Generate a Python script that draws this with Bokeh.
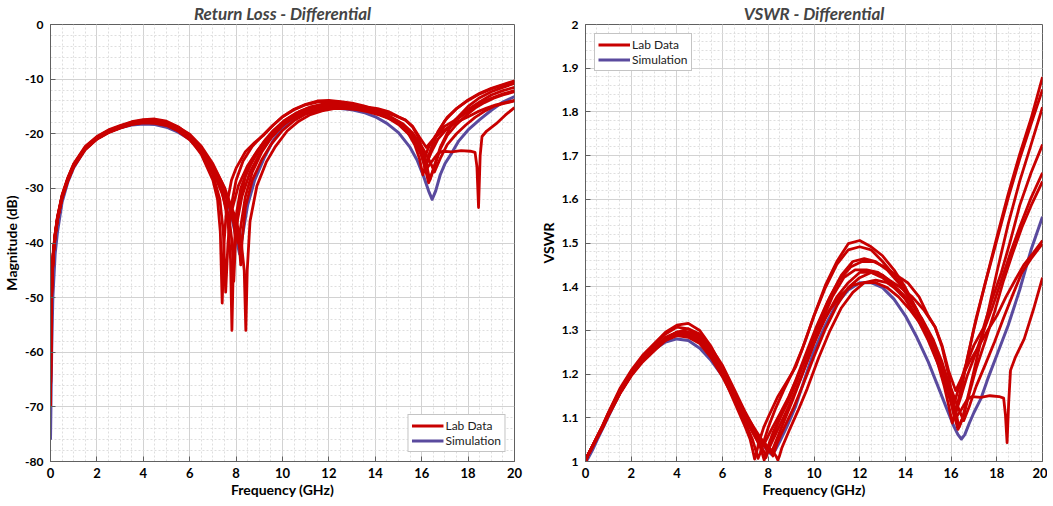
import numpy as np
from bokeh.plotting import figure
from bokeh.layouts import row
from bokeh.models import (Range1d, SingleIntervalTicker, Legend, LegendItem,
                          CustomJSTickFormatter)
from bokeh.embed import file_html
from bokeh.resources import INLINE

# ---------------- data ----------------
sim_f = [0, 0.05, 0.1, 0.2, 0.3, 0.5, 0.75, 1.0, 1.5, 2.0, 2.5, 3.0, 3.5, 4.0, 4.5, 5.0, 5.5, 6.0,
         6.5, 7.0, 7.5, 7.8, 8.0, 8.15, 8.3, 8.5, 8.8, 9.2, 9.6, 10.0, 10.5, 11.0, 11.5, 12.0, 12.5,
         13.0, 13.5, 14.0, 14.5, 15.0, 15.5, 15.8, 16.1, 16.3, 16.45, 16.6, 16.8, 17.0, 17.3, 17.6,
         18.0, 18.5, 19.0, 19.5, 20.0]
sim_db = [-76, -60, -50, -42, -38, -32.5, -28.8, -26.2, -22.8, -20.9, -19.7, -18.9, -18.4, -18.2,
          -18.3, -18.8, -19.7, -21.0, -23.0, -26.0, -30.5, -35.0, -39.0, -42.0, -38.0, -33.0, -28.5,
          -24.5, -21.2, -19.0, -17.4, -16.3, -15.7, -15.4, -15.4, -15.6, -16.1, -16.9, -18.1, -19.8,
          -22.5, -24.8, -28.0, -30.5, -32.0, -30.5, -27.5, -25.5, -23.5, -21.3, -19.3, -17.4, -15.7,
          -14.2, -13.2]

lab1_f = [0, 0.02, 0.06, 0.12, 0.2, 0.3, 0.5, 0.75, 1.0, 1.5, 2.0, 2.5, 3.0, 3.5, 4.0, 4.5, 5.0, 5.5,
          6.0, 6.5, 7.0, 7.2, 7.32, 7.4, 7.48, 7.6, 7.8, 8.0, 8.4, 8.8, 9.2, 9.6, 10.0, 10.5, 11.0,
          11.5, 12.0, 12.5, 13.0, 13.5, 14.0, 14.5, 15.0, 15.4, 15.7, 15.9, 16.05, 16.3, 16.6, 17.0,
          17.5, 18.0, 18.5, 19.0, 19.5, 20.0]
lab1_db = [-70, -55, -47, -42, -38.5, -35.4, -31.4, -28.2, -25.7, -22.5, -20.6, -19.4, -18.6, -17.9,
           -17.5, -17.6, -18.1, -19.2, -20.9, -23.8, -28.5, -32.0, -38.0, -51.0, -40.0, -33.0, -28.5,
           -26.3, -23.3, -21.6, -20.2, -18.4, -16.9, -15.5, -14.6, -14.0, -13.9, -14.1, -14.4, -14.9,
           -15.6, -16.6, -18.1, -19.8, -22.0, -24.5, -27.5, -24.0, -20.5, -17.6, -15.4, -13.8, -12.6,
           -11.7, -11.0, -10.3]

lab2_f = [0, 0.02, 0.06, 0.12, 0.2, 0.3, 0.5, 0.75, 1.0, 1.5, 2.0, 2.5, 3.0, 3.5, 4.0, 4.5, 5.0, 5.5,
          6.0, 6.5, 7.0, 7.3, 7.45, 7.55, 7.65, 7.8, 8.0, 8.3, 8.7, 9.1, 9.5, 10.0, 10.5, 11.0, 11.5,
          12.0, 12.5, 13.0, 13.5, 14.0, 14.5, 15.0, 15.4, 15.8, 16.0, 16.15, 16.4, 16.7, 17.1, 17.5,
          18.0, 18.5, 19.0, 19.5, 20.0]
lab2_db = [-70, -54, -46.5, -41.5, -38.2, -35.2, -31.2, -28.0, -25.5, -22.3, -20.5, -19.3, -18.5,
           -17.8, -17.4, -17.3, -17.7, -18.7, -20.3, -23.0, -27.5, -32.0, -38.0, -49.0, -40.0, -33.0,
           -28.5, -25.0, -22.3, -20.5, -18.8, -16.9, -15.6, -14.7, -14.2, -14.1, -14.2, -14.6, -15.1,
           -15.7, -16.6, -17.8, -19.2, -21.3, -23.5, -26.5, -23.0, -19.6, -17.0, -15.4, -13.9, -12.7,
           -11.8, -11.1, -10.5]

lab3_f = [0, 0.02, 0.06, 0.12, 0.2, 0.3, 0.5, 0.75, 1.0, 1.5, 2.0, 2.5, 3.0, 3.5, 4.0, 4.5, 5.0, 5.5,
          6.0, 6.5, 7.0, 7.4, 7.65, 7.76, 7.82, 7.88, 8.0, 8.2, 8.5, 8.9, 9.3, 9.7, 10.2, 10.7, 11.2,
          11.7, 12.2, 12.7, 13.2, 13.7, 14.2, 14.7, 15.2, 15.6, 15.9, 16.1, 16.3, 16.5, 16.8, 17.2,
          17.6, 18.0, 18.5, 19.0, 19.5, 20.0]
lab3_db = [-70, -56, -47.5, -42.2, -38.8, -35.7, -31.7, -28.5, -26.0, -22.8, -20.9, -19.7, -18.8,
           -18.1, -17.8, -17.9, -18.3, -19.3, -20.8, -23.2, -26.5, -30.5, -36.0, -43.0, -56.0, -44.0,
           -35.0, -30.0, -26.5, -23.7, -21.2, -19.2, -17.3, -16.0, -15.1, -14.6, -14.5, -14.6, -14.9,
           -15.4, -16.1, -17.1, -18.6, -20.5, -22.8, -25.5, -29.0, -26.5, -22.5, -19.0, -16.8, -15.0,
           -13.4, -12.3, -11.5, -10.8]

lab4_f = [0, 0.02, 0.06, 0.12, 0.2, 0.3, 0.5, 0.75, 1.0, 1.5, 2.0, 2.5, 3.0, 3.5, 4.0, 4.5, 5.0, 5.5,
          6.0, 6.5, 7.0, 7.4, 7.7, 7.9, 7.97, 8.05, 8.25, 8.6, 9.0, 9.4, 9.8, 10.3, 10.8, 11.3, 11.8,
          12.3, 12.8, 13.3, 13.8, 14.3, 14.8, 15.3, 15.6, 15.9, 16.1, 16.3, 16.6, 17.0, 17.4, 17.8,
          18.2, 18.6, 19.0, 19.5, 20.0]
lab4_db = [-70, -55.5, -47.2, -42.0, -38.6, -35.6, -31.6, -28.4, -25.9, -22.7, -20.8, -19.6, -18.9,
           -18.3, -17.9, -17.8, -18.0, -18.8, -20.1, -22.3, -25.5, -29.0, -33.0, -36.5, -38.8, -36.0,
           -31.5, -27.0, -23.8, -21.3, -19.3, -17.3, -16.0, -15.2, -14.9, -14.9, -15.0, -15.3, -15.6,
           -16.0, -16.6, -17.5, -18.7, -21.0, -24.5, -22.5, -20.3, -18.6, -17.6, -16.1, -15.0, -13.9,
           -12.9, -12.1, -11.5]

lab5_f = [0, 0.02, 0.06, 0.12, 0.2, 0.3, 0.5, 0.75, 1.0, 1.5, 2.0, 2.5, 3.0, 3.5, 4.0, 4.5, 5.0, 5.5,
          6.0, 6.5, 7.0, 7.5, 7.8, 8.05, 8.15, 8.2, 8.26, 8.4, 8.7, 9.1, 9.5, 10.0, 10.5, 11.0, 11.5,
          12.0, 12.5, 13.0, 13.5, 14.0, 14.5, 15.0, 15.5, 15.8, 16.0, 16.2, 16.4, 16.7, 17.0, 17.4,
          17.8, 18.2, 18.6, 19.0, 19.5, 20.0]
lab5_db = [-70, -55, -46.8, -41.8, -38.4, -35.3, -31.3, -28.1, -25.6, -22.5, -20.7, -19.5, -18.8,
           -18.2, -17.8, -17.8, -18.2, -19.0, -20.4, -22.6, -25.8, -29.8, -33.5, -38.0, -41.0, -44.0,
           -39.5, -33.5, -28.5, -24.8, -22.0, -19.4, -17.6, -16.4, -15.6, -15.2, -15.0, -15.1, -15.5,
           -16.1, -17.0, -18.3, -20.3, -22.0, -23.8, -25.5, -23.5, -21.0, -19.5, -17.8, -16.5, -15.3,
           -14.3, -13.5, -12.7, -12.1]

lab6_f = [0, 0.02, 0.06, 0.12, 0.2, 0.3, 0.5, 0.75, 1.0, 1.5, 2.0, 2.5, 3.0, 3.5, 4.0, 4.5, 5.0, 5.5,
          6.0, 6.5, 7.0, 7.5, 7.9, 8.2, 8.35, 8.42, 8.48, 8.6, 8.9, 9.3, 9.7, 10.2, 10.7, 11.2, 11.7,
          12.2, 12.7, 13.2, 13.7, 14.2, 14.7, 15.2, 15.6, 15.9, 16.15, 16.35, 16.55, 16.8, 17.1, 17.5,
          17.9, 18.3, 18.7, 19.1, 19.5, 20.0]
lab6_db = [-70, -56, -47.6, -42.3, -38.9, -35.8, -31.8, -28.6, -26.1, -22.9, -21.0, -19.8, -19.0,
           -18.3, -18.0, -18.1, -18.5, -19.5, -21.1, -23.5, -26.8, -30.5, -34.5, -39.0, -45.0, -56.0,
           -45.0, -36.0, -29.5, -25.2, -22.3, -19.5, -17.7, -16.5, -15.8, -15.4, -15.3, -15.4, -15.7,
           -16.2, -17.0, -18.2, -19.8, -21.8, -24.5, -28.5, -26.0, -22.8, -20.3, -18.3, -16.7, -15.3,
           -14.3, -13.5, -12.9, -12.3]

lab7_f = [0, 0.02, 0.06, 0.12, 0.2, 0.3, 0.5, 0.75, 1.0, 1.5, 2.0, 2.5, 3.0, 3.5, 4.0, 4.5, 5.0, 5.5,
          6.0, 6.5, 7.0, 7.4, 7.6, 7.7, 7.85, 8.1, 8.5, 8.9, 9.3, 9.7, 10.2, 10.7, 11.2, 11.7, 12.2,
          12.7, 13.2, 13.7, 14.2, 14.7, 15.2, 15.6, 15.9, 16.2, 16.4, 16.55, 16.8, 17.1, 17.5, 17.9,
          18.3, 18.7, 19.1, 19.5, 20.0]
lab7_db = [-70, -55, -47, -41.9, -38.5, -35.5, -31.5, -28.3, -25.8, -22.6, -20.8, -19.6, -18.8,
           -18.2, -17.9, -18.0, -18.4, -19.4, -20.9, -23.4, -26.8, -31.0, -34.0, -36.0, -33.5, -29.5,
           -25.8, -23.2, -21.0, -19.3, -17.7, -16.6, -15.9, -15.5, -15.4, -15.4, -15.6, -16.0, -16.6,
           -17.4, -18.6, -20.0, -21.6, -23.8, -25.5, -27.0, -24.5, -22.0, -20.0, -18.4, -17.0, -15.9,
           -15.0, -14.5, -14.0]

lab8_f = [0, 0.02, 0.06, 0.12, 0.2, 0.3, 0.5, 0.75, 1.0, 1.5, 2.0, 2.5, 3.0, 3.5, 4.0, 4.5, 5.0, 5.5,
          6.0, 6.5, 7.0, 7.5, 7.8, 8.0, 8.1, 8.2, 8.4, 8.7, 9.1, 9.5, 10.0, 10.5, 11.0, 11.5, 12.0,
          12.5, 13.0, 13.5, 14.0, 14.5, 15.0, 15.4, 15.7, 16.0, 16.2, 16.45, 16.7, 16.9, 17.3, 17.7,
          18.1, 18.3, 18.38, 18.45, 18.52, 18.6, 18.8, 19.2, 19.6, 20.0]
lab8_db = [-70, -55.2, -47.1, -42.1, -38.7, -35.6, -31.5, -28.3, -25.8, -22.7, -20.9, -19.7, -18.9,
           -18.2, -17.8, -17.9, -18.3, -19.2, -20.6, -22.9, -26.2, -30.5, -34.5, -37.5, -40.0, -37.0,
           -31.5, -27.0, -23.4, -20.8, -18.5, -17.0, -16.0, -15.4, -15.0, -15.0, -15.2, -15.6, -16.1,
           -16.9, -18.0, -19.5, -21.5, -24.0, -26.5, -25.0, -23.6, -23.2, -23.3, -23.1, -23.2, -23.4,
           -26.0, -33.5, -24.0, -20.5, -19.5, -18.2, -16.6, -15.2]

lab9_f = [0, 0.02, 0.06, 0.12, 0.2, 0.3, 0.5, 0.75, 1.0, 1.5, 2.0, 2.5, 3.0, 3.5, 4.0, 4.5, 5.0, 5.5,
          6.0, 6.5, 7.0, 7.4, 7.7, 7.83, 7.9, 7.97, 8.1, 8.4, 8.8, 9.2, 9.6, 10.1, 10.6, 11.1, 11.6,
          12.1, 12.6, 13.1, 13.6, 14.1, 14.6, 15.0, 15.3, 15.6, 15.9, 16.2, 16.5, 16.8, 17.2, 17.6,
          18.0, 18.4, 18.8, 19.2, 19.6, 20.0]
lab9_db = [-70, -55.8, -47.4, -42.2, -38.7, -35.7, -31.6, -28.4, -25.9, -22.8, -20.9, -19.7, -18.9,
           -18.2, -17.8, -17.6, -17.9, -18.9, -20.5, -23.0, -26.5, -30.5, -35.5, -40.0, -47.0, -40.0,
           -33.5, -27.8, -24.0, -21.4, -19.4, -17.5, -16.2, -15.3, -14.8, -14.6, -14.6, -14.8, -15.1,
           -15.4, -16.0, -16.9, -17.5, -18.6, -20.6, -22.5, -21.0, -19.8, -18.7, -17.7, -16.9, -16.0,
           -15.3, -14.7, -14.3, -13.9]

lab_f = [lab1_f, lab2_f, lab3_f, lab4_f, lab5_f, lab6_f, lab7_f, lab8_f, lab9_f]
lab_db = [lab1_db, lab2_db, lab3_db, lab4_db, lab5_db, lab6_db, lab7_db, lab8_db, lab9_db]

# ---------------- style ----------------
RED = "#c80000"
SIM = "#5a4a9e"
FONT = "Lato"
EDGE = "#606060"


def vswr(db):
    g = 10 ** (np.asarray(db, dtype=float) / 20.0)
    return (1 + g) / (1 - g)


def make_fig(title, yr, yint, ylabel, fw, mbl, mbr, fmt_code):
    p = figure(frame_width=fw, frame_height=437, x_range=Range1d(0, 20), y_range=Range1d(*yr),
               output_backend="svg", toolbar_location=None, title=title,
               min_border_left=mbl, min_border_right=mbr, min_border_top=17, min_border_bottom=0,
               background_fill_color="white", border_fill_color="white")
    p.title.text_font = FONT
    p.title.text_font_size = "17px"
    p.title.text_font_style = "bold italic"
    p.title.align = "center"
    p.title.standoff = 1
    p.title.offset = 0
    xt = SingleIntervalTicker(interval=2, num_minor_ticks=4)
    yt = SingleIntervalTicker(interval=yint, num_minor_ticks=5)
    p.xaxis.ticker = xt
    p.yaxis.ticker = yt
    p.xgrid.ticker = xt
    p.ygrid.ticker = yt
    p.yaxis.formatter = CustomJSTickFormatter(code=fmt_code)
    p.xaxis.formatter = CustomJSTickFormatter(code="return Math.round(tick).toString();")
    for ax in (p.xaxis, p.yaxis):
        ax.axis_line_color = EDGE
        ax.major_tick_line_color = EDGE
        ax.major_tick_in = 5
        ax.major_tick_out = 0
        ax.minor_tick_line_color = None
        ax.major_label_text_font = FONT
        ax.major_label_text_font_style = "bold"
        ax.major_label_text_font_size = "12px"
        ax.major_label_text_color = "black"
        ax.major_label_standoff = 3
        ax.axis_label_text_font = FONT
        ax.axis_label_text_font_style = "bold"
        ax.axis_label_text_color = "black"
        ax.axis_label_standoff = 3
    p.xaxis.axis_label = "Frequency (GHz)"
    p.xaxis.axis_label_text_font_size = "14px"
    p.xaxis.major_label_text_font_size = "13px"
    p.xaxis.major_label_standoff = 2
    p.xaxis.axis_label_standoff = 0
    p.yaxis.axis_label = ylabel
    p.yaxis.axis_label_text_font_size = "14px"
    p.yaxis.axis_label_standoff = 2
    for g in (p.xgrid, p.ygrid):
        g.grid_line_color = "#d2d2d2"
        g.grid_line_width = 1
        g.minor_grid_line_color = "#dedede"
        g.minor_grid_line_dash = "2 2"
        g.minor_grid_line_width = 1
    p.outline_line_color = EDGE
    p.outline_line_width = 1
    return p


# ---------------- left: return loss ----------------
p1 = make_fig("Return Loss - Differential", (-80, 0), 10, "Magnitude (dB)", 464, 40, 14,
              "return Math.round(tick).toString();")
r_sim1 = p1.line(sim_f, sim_db, color=SIM, line_width=3, line_join="round")
lab_r1 = []
for f, d in zip(lab_f, lab_db):
    lab_r1.append(p1.line(f, d, color=RED, line_width=2.8, line_join="round"))

# ---------------- right: VSWR ----------------
p2 = make_fig("VSWR - Differential", (1, 2), 0.1, "VSWR", 457, 57, 5,
              "return (Math.round(tick * 10) / 10).toString();")
r_sim2 = p2.line(sim_f, vswr(sim_db), color=SIM, line_width=3, line_join="round")
lab_r2 = []
for f, d in zip(lab_f, lab_db):
    lab_r2.append(p2.line(f, vswr(d), color=RED, line_width=2.8, line_join="round"))


def add_legend(p, lab_r, sim_r, loc):
    lg = Legend(items=[LegendItem(label="Lab Data", renderers=[lab_r]),
                       LegendItem(label="Simulation", renderers=[sim_r])],
                location=loc)
    lg.label_text_font = FONT
    lg.label_text_font_size = "12px"
    lg.label_text_color = "#222222"
    lg.glyph_width = 32
    lg.glyph_height = 15
    lg.label_standoff = 2
    lg.label_height = 15
    lg.padding = 3
    lg.spacing = 0
    lg.margin = 9
    lg.border_line_color = "#8a8a8a"
    lg.border_line_width = 1
    lg.background_fill_color = "white"
    lg.background_fill_alpha = 1
    p.add_layout(lg)


add_legend(p1, lab_r1[0], r_sim1, "bottom_right")
add_legend(p2, lab_r2[0], r_sim2, "top_left")

layout = row(p1, p2)
open("out.html", "w").write(file_html(layout, INLINE))
